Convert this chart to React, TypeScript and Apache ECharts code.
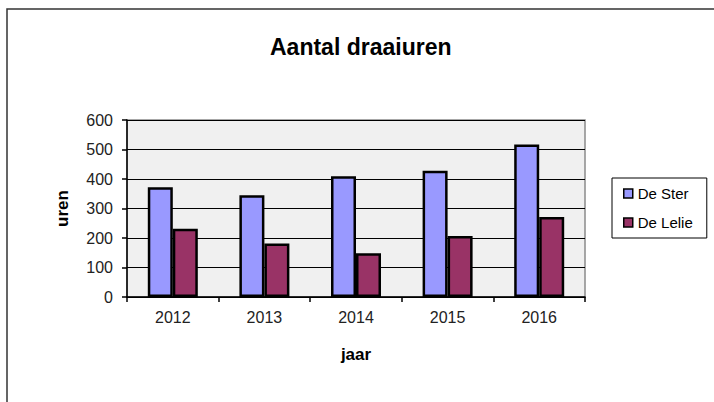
import React, { useEffect, useRef } from "react";
import * as echarts from "echarts";

const categories = ["2012", "2013", "2014", "2015", "2016"];
const deSter = [372, 345, 409, 428, 517];
const deLelie = [231, 181, 148, 207, 271];
const yTicks = { min: 0, max: 600, interval: 100 };

const FONT = "'Liberation Sans', Arial, sans-serif";

export default function App() {
  const ref = useRef<HTMLDivElement>(null);
  useEffect(() => {
    document.body.style.margin = "0";
    const chart = echarts.init(ref.current!, null, { renderer: "svg" });
    chart.setOption({
      animation: false,
      backgroundColor: "#ffffff",
      title: {
        text: "Aantal draaiuren",
        left: 265,
        top: 30,
        textStyle: { fontFamily: FONT, fontSize: 23, fontWeight: "bold", color: "#000" },
      },
      legend: {
        orient: "vertical",
        left: 612,
        top: 178,
        padding: [8, 14, 8, 11],
        itemGap: 14,
        itemWidth: 9,
        itemHeight: 9,
        icon: "rect",
        borderColor: "#000",
        borderWidth: 1,
        backgroundColor: "#fff",
        textStyle: { fontFamily: FONT, fontSize: 15, color: "#000" },
        data: [
          { name: "De Ster", itemStyle: { borderColor: "#000", borderWidth: 1.5 } },
          { name: "De Lelie", itemStyle: { borderColor: "#000", borderWidth: 1.5 } },
        ],
      },
      grid: {
        left: 127,
        right: 129,
        top: 120,
        bottom: 105,
        show: true,
        backgroundColor: "#F0F0F0",
        borderColor: "#8a8a8a",
        borderWidth: 1.5,
      },
      xAxis: {
        type: "category",
        data: categories,
        name: "jaar",
        nameLocation: "middle",
        nameGap: 49,
        nameTextStyle: { fontFamily: FONT, fontSize: 17, fontWeight: "bold", color: "#000" },
        axisLine: { lineStyle: { color: "#000", width: 1.5 } },
        axisTick: { show: true, alignWithLabel: false, length: 5, lineStyle: { color: "#000", width: 1.5 } },
        axisLabel: { fontFamily: FONT, fontSize: 16, color: "#222", margin: 12 },
      },
      yAxis: {
        type: "value",
        min: yTicks.min,
        max: yTicks.max,
        interval: yTicks.interval,
        name: "uren",
        nameLocation: "middle",
        nameGap: 56,
        nameTextStyle: { fontFamily: FONT, fontSize: 17, fontWeight: "bold", color: "#000" },
        axisLine: { show: true, lineStyle: { color: "#000", width: 1.5 } },
        axisTick: { show: true, length: 5, lineStyle: { color: "#000", width: 1.5 } },
        axisLabel: { fontFamily: FONT, fontSize: 16, color: "#222", margin: 14 },
        splitLine: { show: true, lineStyle: { color: "#000", width: 1 } },
      },
      series: [
        {
          name: "De Ster",
          type: "bar",
          data: deSter,
          barWidth: 25,
          barGap: "0%",
          itemStyle: { color: "#9999FF", borderColor: "#000", borderWidth: 2.5 },
        },
        {
          name: "De Lelie",
          type: "bar",
          data: deLelie,
          barWidth: 25,
          barGap: "0%",
          itemStyle: { color: "#993366", borderColor: "#000", borderWidth: 2.5 },
        },
      ],
      graphic: [
        {
          type: "polyline",
          shape: { points: [[7, 402], [7, 9], [714, 9]] },
          style: { stroke: "#333", lineWidth: 1.5, fill: "none" },
          silent: true,
        },
      ],
    });
    return () => chart.dispose();
  }, []);
  return <div ref={ref} style={{ width: 714, height: 402 }} />;
}
